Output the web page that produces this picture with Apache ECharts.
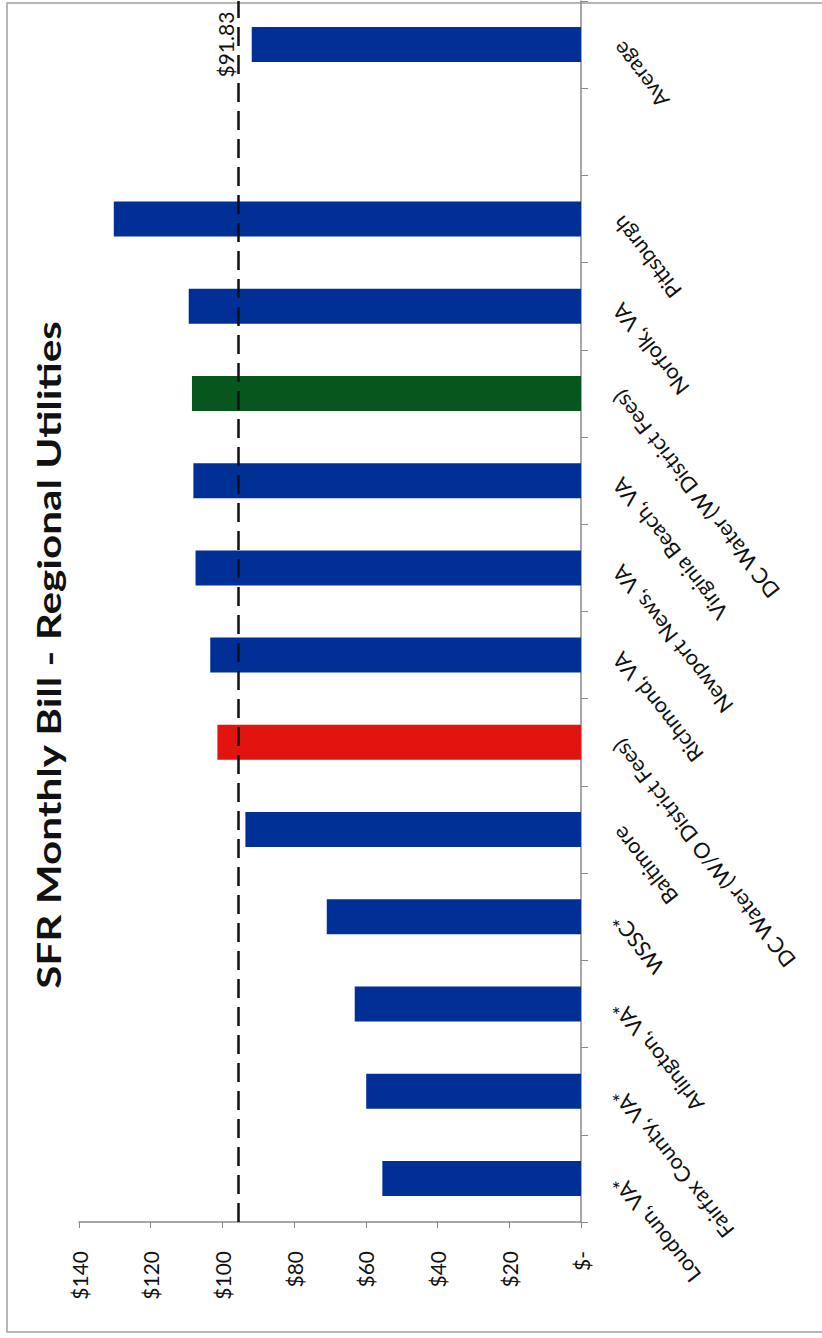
<!DOCTYPE html>
<html>
<head>
<meta charset="utf-8">
<script src="https://cdn.jsdelivr.net/npm/echarts@6/dist/echarts.min.js"></script>
<style>
html,body{margin:0;padding:0;background:#fff;}
#chart{width:822px;height:1338px;}
</style>
</head>
<body>
<div id="chart"></div>
<script>
// Categories listed from bottom of the (rotated) chart to the top
const categories = ['Loudoun, VA*', 'Fairfax County, VA*', 'Arlington, VA*', 'WSSC*', 'Baltimore',
  'DC Water (W/O District Fees)', 'Richmond, VA', 'Newport News, VA', 'Virginia Beach, VA',
  'DC Water (W District Fees)', 'Norfolk, VA', 'Pittsburgh', '', 'Average'];
const monthlyBill = [55.4, 59.9, 63.1, 70.9, 93.6, 101.4, 103.4, 107.5, 108.1, 108.5, 109.4, 130.3, null, 91.83];
const redCategory = 'DC Water (W/O District Fees)';
const greenCategory = 'DC Water (W District Fees)';
const labelledCategory = 'Average';
const referenceLine = [95.5];
const valueTicks = [0, 20, 40, 60, 80, 100, 120, 140];
const titleText = 'SFR Monthly Bill - Regional Utilities';

const BLUE = '#002f96', RED = '#e2140f', GREEN = '#07561d';
const FONT = 'Lato, "Liberation Sans", sans-serif';

const barData = monthlyBill.map((v, i) => {
  const c = categories[i];
  const item = { value: v, itemStyle: { color: c === redCategory ? RED : (c === greenCategory ? GREEN : BLUE) } };
  if (c === labelledCategory) {
    item.label = {
      show: true, position: 'left', distance: 26, rotate: 90,
      align: 'center', verticalAlign: 'middle',
      formatter: p => '$' + p.value.toFixed(2),
      fontFamily: FONT, fontSize: 21, color: '#111'
    };
  }
  return item;
});

const chart = echarts.init(document.getElementById('chart'), null, { renderer: 'svg' });
chart.setOption({
  animation: false,
  backgroundColor: '#fff',
  grid: { left: 79, right: 241, top: 1, bottom: 116, outerBoundsMode: 'none', containLabel: false },
  xAxis: {
    type: 'value', inverse: true, position: 'bottom',
    min: valueTicks[0], max: valueTicks[valueTicks.length - 1], interval: valueTicks[1] - valueTicks[0],
    splitLine: { show: false },
    axisLine: { show: true, lineStyle: { color: '#8a8a8a', width: 1.5 } },
    axisTick: { show: true, length: 6, lineStyle: { color: '#8a8a8a' } },
    axisLabel: {
      rotate: 90, margin: 29, fontFamily: FONT, fontSize: 21, color: '#111',
      formatter: v => v === 0 ? '$-' : '$' + v
    }
  },
  yAxis: {
    type: 'category', position: 'right', data: categories,
    axisLine: { show: true, lineStyle: { color: '#8a8a8a', width: 1.5 } },
    axisTick: { show: true, length: 7, alignWithLabel: false, lineStyle: { color: '#8a8a8a' } },
    axisLabel: { interval: 0, rotate: 128, margin: 36, fontFamily: FONT, fontSize: 21.5, color: '#111' },
    splitLine: { show: false }
  },
  series: [{
    type: 'bar', data: barData, barWidth: 35,
    markLine: {
      silent: true, symbol: 'none', label: { show: false },
      lineStyle: { type: [19, 9], color: '#111', width: 2.5 },
      data: referenceLine.map(v => ({ xAxis: v }))
    }
  }],
  graphic: [
    {
      type: 'rect', silent: true,
      shape: { x: 7, y: 3, width: 840, height: 1329 },
      style: { fill: 'none', stroke: '#a0a0a0', lineWidth: 1.5 }
    },
    {
      type: 'text', x: 49, y: 655, rotation: Math.PI / 2, scaleX: 1.32,
      style: {
        text: titleText, fontFamily: FONT, fontWeight: 'bold', fontSize: 32,
        fill: '#111', textAlign: 'center', textVerticalAlign: 'middle'
      }
    }
  ]
});
</script>
</body>
</html>
